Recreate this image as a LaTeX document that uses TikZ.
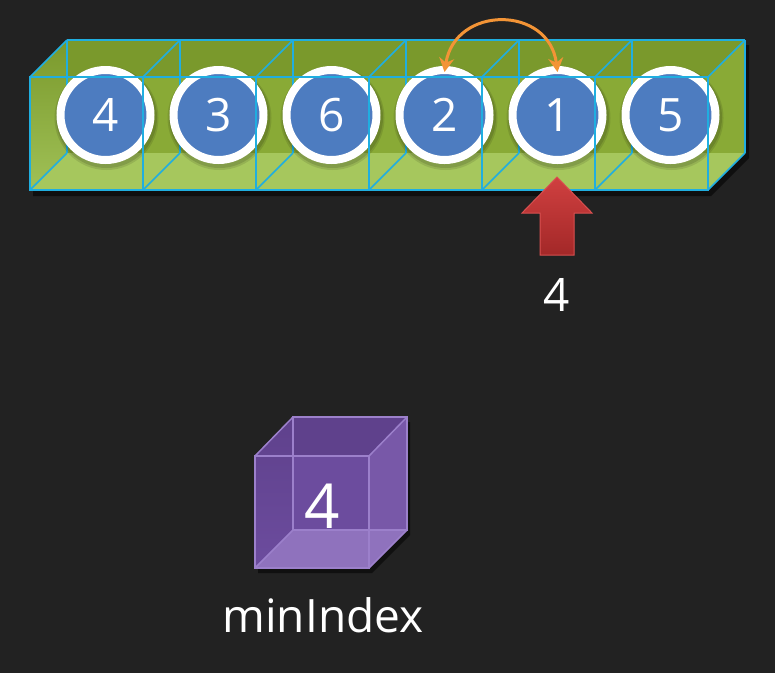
\documentclass[tikz,border=0pt]{standalone}
\usepackage{fontspec}
\setmainfont{Open Sans}
\usetikzlibrary{arrows.meta}
\definecolor{bg}{HTML}{222222}
\definecolor{gMain}{HTML}{89AA36}
\definecolor{gTop}{HTML}{7A992C}
\definecolor{gBot}{HTML}{A6C75D}
\definecolor{gLeft}{HTML}{7E9E31}
\definecolor{edgeC}{HTML}{20AEE0}
\definecolor{ballC}{HTML}{4D7CC0}
\definecolor{orangeC}{HTML}{F39436}
\definecolor{redTop}{HTML}{D04040}
\definecolor{redBot}{HTML}{A32828}
\definecolor{redEdge}{HTML}{D95050}
\definecolor{pMain}{HTML}{6C4C9E}
\definecolor{pTop}{HTML}{5F418C}
\definecolor{pBot}{HTML}{8F72BD}
\definecolor{pRight}{HTML}{7858A8}
\definecolor{pEdge}{HTML}{9C80CB}
\begin{document}
\begin{tikzpicture}[x=1pt,y=-1pt,
  ball/.style={circle,fill=ballC,draw=white,line width=8pt,minimum size=90pt,inner sep=0pt,
    text=white,font=\fontsize{46}{50}\selectfont},
  boxedge/.style={draw=edgeC,line width=1.6pt},
  cubeedge/.style={draw=pEdge,line width=1.5pt},
  bigtext/.style={text=white,inner sep=0pt,font=\fontsize{46}{50}\selectfont}]
\useasboundingbox (0,0) rectangle (775,673);
\fill[bg] (0,0) rectangle (775,673);
% ---- array box ----
\fill[black,opacity=.55] (33,82) -- (70,45) -- (749,45) -- (749,158) -- (711,196) -- (33,196) -- cycle;
\fill[gMain] (30,77) -- (67,40) -- (745,40) -- (745,153) -- (708,190) -- (30,190) -- cycle;
\fill[gTop] (30,77) -- (67,40) -- (745,40) -- (708,77) -- cycle;
\fill[gBot] (30,190) -- (67,153) -- (745,153) -- (708,190) -- cycle;
\shade[top color=gTop,bottom color=gBot!85!gLeft] (30,77) -- (67,40) -- (67,153) -- (30,190) -- cycle;
% back edges
\foreach \i in {0,...,6}{
  \pgfmathsetmacro{\xx}{30+113*\i}
  \draw[boxedge] (\xx+37,40) -- (\xx+37,153);
}
\draw[boxedge] (67,40) -- (745,40);
% balls
\foreach \i/\v in {1/4,2/3,3/6,4/2,5/1,6/5}{
  \pgfmathsetmacro{\xx}{105.5+113*(\i-1)}
  \fill[black,opacity=.10] (\xx+1,118) circle (52pt);
  \fill[black,opacity=.12] (\xx+1,117.5) circle (50.5pt);
  \node[ball] (c\i) at (\xx,115) {\v};
}
% front edges
\draw[boxedge] (30,77) rectangle (708,190);
\foreach \i in {0,...,6}{
  \pgfmathsetmacro{\xx}{30+113*\i}
  \draw[boxedge] (\xx,77) -- (\xx,190);
  \draw[boxedge] (\xx,77) -- (\xx+37,40);
  \draw[boxedge] (\xx,190) -- (\xx+37,153);
}
% swap arrow
\draw[orangeC,line width=3pt,{Stealth[length=14pt,width=15pt]}-{Stealth[length=14pt,width=15pt]}]
  ([yshift=-6pt]c4.north) .. controls (455,5) and (549,5) .. ([yshift=-6pt]c5.north);
% red pointer arrow
\shade[top color=redTop,bottom color=redBot,draw=redEdge,line width=1pt]
  (557,177) -- (592,213) -- (574,213) -- (574,255) -- (540,255) -- (540,213) -- (522,213) -- cycle;
\node[bigtext] (ptr) at (557,295) {4};
% ---- minIndex cube ----
\fill[black,opacity=.5] (258,461) -- (296,422) -- (410,422) -- (410,535) -- (372,573) -- (258,573) -- cycle;
\fill[pMain] (255,456) -- (293,417) -- (407,417) -- (407,530) -- (369,568) -- (255,568) -- cycle;
\fill[pTop] (255,456) -- (293,417) -- (407,417) -- (369,456) -- cycle;
\fill[pRight] (369,456) -- (407,417) -- (407,530) -- (369,568) -- cycle;
\fill[pBot] (255,568) -- (293,530) -- (407,530) -- (369,568) -- cycle;
\shade[top color=pTop,bottom color=pMain] (255,456) -- (293,417) -- (293,530) -- (255,568) -- cycle;
\draw[cubeedge] (293,417) rectangle (407,530);
\draw[cubeedge] (255,456) -- (293,417) (369,456) -- (407,417) (369,568) -- (407,530) (255,568) -- (293,530);
\draw[cubeedge] (255,456) rectangle (369,568);
\node[text=white,inner sep=0pt,font=\fontsize{62}{66}\selectfont] (mi) at (322,506) {4};
\node[bigtext,anchor=base] (lbl) at (323,632) {minIndex};
\end{tikzpicture}
\end{document}
